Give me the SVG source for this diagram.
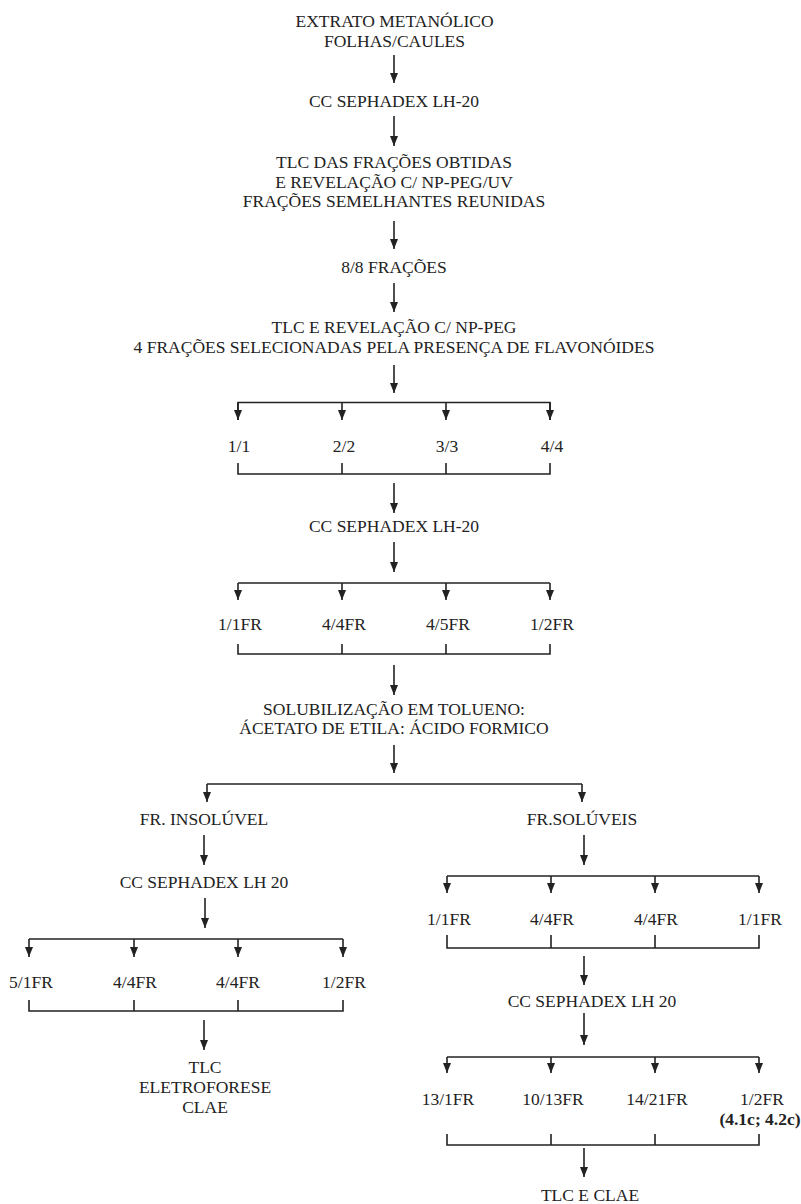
<svg xmlns="http://www.w3.org/2000/svg" width="801" height="1204" viewBox="0 0 801 1204">
<defs>
<style>
text{font-family:"Liberation Serif","Times New Roman",serif;font-size:17.5px;fill:#222;text-anchor:middle}
.b{font-weight:bold}
.c{stroke:#222;stroke-width:1.6;fill:none}
.a{stroke:#222;stroke-width:1.6;fill:none;marker-end:url(#ah)}
</style>
<marker id="ah" markerUnits="userSpaceOnUse" markerWidth="8" markerHeight="10" viewBox="0 0 8 10" refX="4" refY="10" orient="0">
<path d="M0,0 L8,0 L4,10 Z" fill="#222"/>
</marker>
</defs>
<rect width="801" height="1204" fill="#fff"/>

<g id="connectors">
<line class="a" x1="394" y1="55" x2="394" y2="83"/>
<line class="a" x1="394" y1="116" x2="394" y2="146"/>
<line class="a" x1="394" y1="221" x2="394" y2="249"/>
<line class="a" x1="394" y1="283" x2="394" y2="312"/>
<line class="a" x1="394" y1="365" x2="394" y2="393"/>
<path class="c" d="M238,420 V402.5 H550 V420"/>
<line class="a" x1="238" y1="402.5" x2="238" y2="420"/>
<line class="a" x1="342" y1="402.5" x2="342" y2="420"/>
<line class="a" x1="446" y1="402.5" x2="446" y2="420"/>
<line class="a" x1="550" y1="402.5" x2="550" y2="420"/>
<path class="c" d="M238,463 V474 H550 V463 M342,463 V474 M446,463 V474"/>
<line class="a" x1="394" y1="483" x2="394" y2="513"/>
<line class="a" x1="394" y1="542" x2="394" y2="572"/>
<path class="c" d="M238,583 H550"/>
<line class="a" x1="238" y1="583" x2="238" y2="600"/>
<line class="a" x1="342" y1="583" x2="342" y2="600"/>
<line class="a" x1="446" y1="583" x2="446" y2="600"/>
<line class="a" x1="550" y1="583" x2="550" y2="600"/>
<path class="c" d="M238,644 V654 H550 V644 M342,644 V654 M446,644 V654"/>
<line class="a" x1="394" y1="665" x2="394" y2="695"/>
<line class="a" x1="394" y1="745" x2="394" y2="773"/>
<path class="c" d="M207,784 H582"/>
<line class="a" x1="207" y1="784" x2="207" y2="802"/>
<line class="a" x1="582" y1="784" x2="582" y2="802"/>
<line class="a" x1="204" y1="835" x2="204" y2="865"/>
<line class="a" x1="205" y1="898" x2="205" y2="928"/>
<path class="c" d="M29,939 H343"/>
<line class="a" x1="29" y1="939" x2="29" y2="957"/>
<line class="a" x1="134" y1="939" x2="134" y2="957"/>
<line class="a" x1="238" y1="939" x2="238" y2="957"/>
<line class="a" x1="343" y1="939" x2="343" y2="957"/>
<path class="c" d="M29,1000 V1011 H343 V1000 M134,1000 V1011 M238,1000 V1011"/>
<line class="a" x1="204" y1="1020" x2="204" y2="1050"/>
<line class="a" x1="584" y1="835" x2="584" y2="865"/>
<path class="c" d="M447,876 H759"/>
<line class="a" x1="447" y1="876" x2="447" y2="893"/>
<line class="a" x1="551" y1="876" x2="551" y2="893"/>
<line class="a" x1="655" y1="876" x2="655" y2="893"/>
<line class="a" x1="759" y1="876" x2="759" y2="893"/>
<path class="c" d="M447,935 V948 H759 V935 M551,935 V948 M655,935 V948"/>
<line class="a" x1="584" y1="956" x2="584" y2="985"/>
<line class="a" x1="584" y1="1013" x2="584" y2="1045"/>
<path class="c" d="M447,1057 H759"/>
<line class="a" x1="447" y1="1057" x2="447" y2="1073"/>
<line class="a" x1="551" y1="1057" x2="551" y2="1073"/>
<line class="a" x1="655" y1="1057" x2="655" y2="1073"/>
<line class="a" x1="759" y1="1057" x2="759" y2="1073"/>
<path class="c" d="M447,1134 V1145 H759 V1134 M551,1134 V1145 M655,1134 V1145"/>
<line class="a" x1="584" y1="1148" x2="584" y2="1177"/>
</g>

<g id="n-extrato"><text x="394.5" y="27">EXTRATO METANÓLICO</text><text x="394.5" y="47">FOLHAS/CAULES</text></g>
<g id="n-cc1"><text x="394" y="107">CC SEPHADEX LH-20</text></g>
<g id="n-tlc1"><text x="394" y="168">TLC DAS FRAÇÕES OBTIDAS</text><text x="394" y="188">E REVELAÇÃO C/ NP-PEG/UV</text><text x="394" y="207">FRAÇÕES SEMELHANTES REUNIDAS</text></g>
<g id="n-88"><text x="394" y="273">8/8 FRAÇÕES</text></g>
<g id="n-tlc2"><text x="394" y="333">TLC E REVELAÇÃO C/ NP-PEG</text><text x="394" y="353">4 FRAÇÕES SELECIONADAS PELA PRESENÇA DE FLAVONÓIDES</text></g>
<g id="n-f1"><text x="239" y="452">1/1</text></g>
<g id="n-f2"><text x="344" y="452">2/2</text></g>
<g id="n-f3"><text x="447" y="452">3/3</text></g>
<g id="n-f4"><text x="552" y="452">4/4</text></g>
<g id="n-cc2"><text x="394" y="532">CC SEPHADEX LH-20</text></g>
<g id="n-g1"><text x="240" y="630">1/1FR</text></g>
<g id="n-g2"><text x="344" y="630">4/4FR</text></g>
<g id="n-g3"><text x="448" y="630">4/5FR</text></g>
<g id="n-g4"><text x="552" y="630">1/2FR</text></g>
<g id="n-solub"><text x="394" y="715">SOLUBILIZAÇÃO EM TOLUENO:</text><text x="394" y="734">ÁCETATO DE ETILA: ÁCIDO FORMICO</text></g>
<g id="n-insol"><text x="204" y="825">FR. INSOLÚVEL</text></g>
<g id="n-sol"><text x="582" y="825">FR.SOLÚVEIS</text></g>
<g id="n-cc3"><text x="204" y="888">CC SEPHADEX LH 20</text></g>
<g id="n-h1"><text x="31" y="988">5/1FR</text></g>
<g id="n-h2"><text x="135" y="988">4/4FR</text></g>
<g id="n-h3"><text x="238" y="988">4/4FR</text></g>
<g id="n-h4"><text x="344" y="988">1/2FR</text></g>
<g id="n-tlc3"><text x="205" y="1073">TLC</text><text x="205" y="1093">ELETROFORESE</text><text x="205" y="1113">CLAE</text></g>
<g id="n-i1"><text x="449" y="925">1/1FR</text></g>
<g id="n-i2"><text x="552" y="925">4/4FR</text></g>
<g id="n-i3"><text x="656" y="925">4/4FR</text></g>
<g id="n-i4"><text x="760" y="925">1/1FR</text></g>
<g id="n-cc4"><text x="592" y="1007">CC SEPHADEX LH 20</text></g>
<g id="n-j1"><text x="448" y="1105">13/1FR</text></g>
<g id="n-j2"><text x="553" y="1105">10/13FR</text></g>
<g id="n-j3"><text x="657" y="1105">14/21FR</text></g>
<g id="n-j4"><text x="762" y="1105">1/2FR</text><text class="b" x="760" y="1125">(4.1c; 4.2c)</text></g>
<g id="n-final"><text x="590" y="1201">TLC E CLAE</text></g>
</svg>
